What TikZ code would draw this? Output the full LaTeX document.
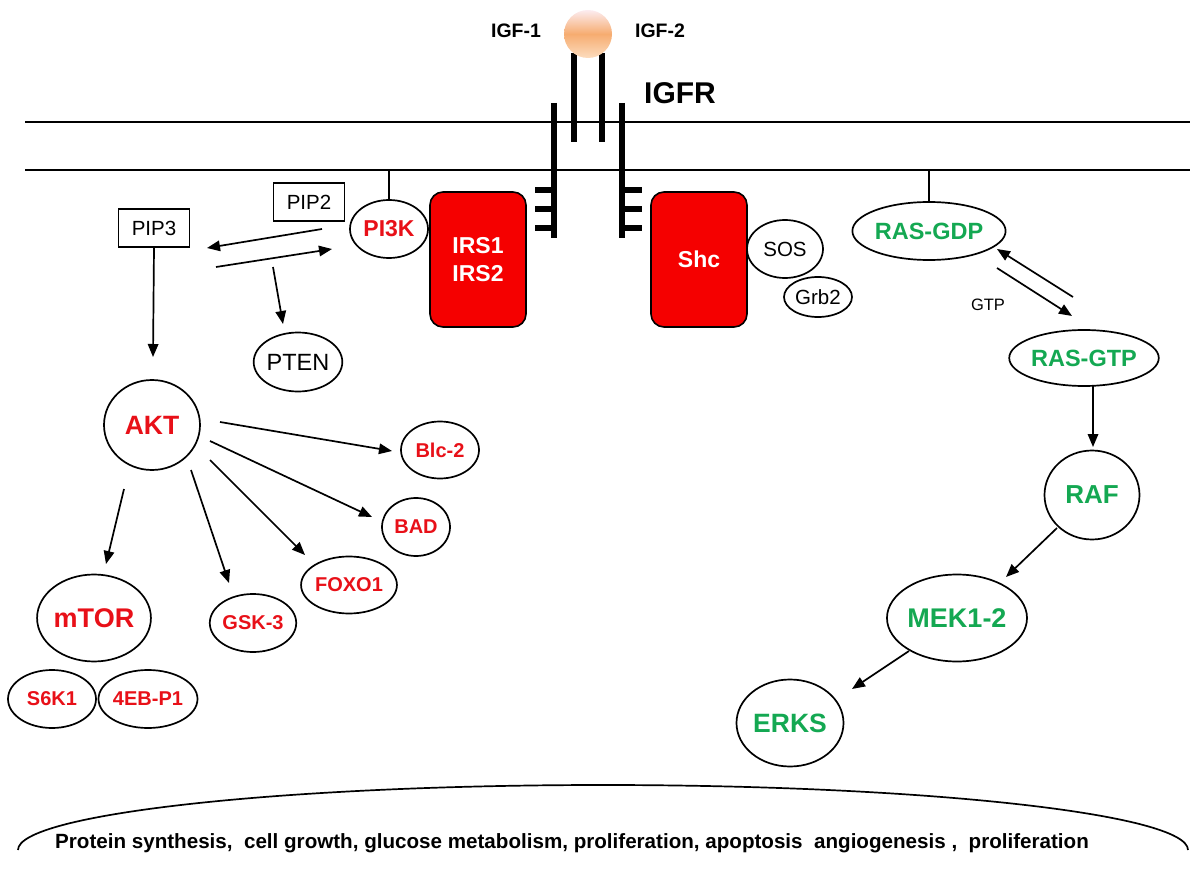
\documentclass[tikz,border=0pt]{standalone}
\usepackage{fontspec}
\setmainfont{Liberation Sans}
\usetikzlibrary{shapes.geometric,arrows.meta}
\definecolor{myred}{RGB}{232,16,24}
\definecolor{boxred}{RGB}{245,0,0}
\definecolor{mygreen}{RGB}{20,168,82}
\newcommand{\fsz}[1]{\fontsize{#1}{#1}\selectfont}
\begin{document}
\begin{tikzpicture}[x=1pt,y=-1pt,
  ov/.style={ellipse,draw,line width=1.7pt,inner sep=0pt},
  rt/.style={text=myred,font=\bfseries\fsz{#1}},
  gt/.style={text=mygreen,font=\bfseries\fsz{#1}},
  bt/.style={text=black,font=\fsz{#1}},
  pbox/.style={draw,line width=1.5pt,inner sep=0pt,minimum width=71pt,minimum height=38pt,font=\fsz{20.5}},
  redbox/.style={draw,line width=1.6pt,fill=boxred,rounded corners=13pt,minimum width=96pt,minimum height=135pt,text=white,align=center},
  arr/.style={-{Triangle[length=13pt,width=10.5pt]},line width=1.7pt},
  memb/.style={line width=1.7pt},
  bar/.style={line width=5.5pt},
  conn/.style={line width=1.6pt}]
\useasboundingbox (0,0) rectangle (1200,869);

% membrane
\draw[memb] (25,122) -- (1190,122);
\draw[memb] (25,170) -- (1190,170);

% receptor
\draw[bar] (574,53) -- (574,142);
\draw[bar] (602,53) -- (602,142);
\draw[bar] (554,103) -- (554,238);
\draw[bar] (622,103) -- (622,238);
\foreach \y in {190,209,228}{
  \draw[bar] (535,\y) -- (554,\y);
  \draw[bar] (622,\y) -- (642,\y);
}
% ligand
\shade[top color={rgb,255:red,252;green,236;blue,240},bottom color={rgb,255:red,252;green,220;blue,190},middle color={rgb,255:red,246;green,172;blue,112}] (588,34) circle[radius=24];

\node[font=\bfseries\fsz{19.5}] (igf1) at (516,31) {IGF-1};
\node[font=\bfseries\fsz{19.5}] (igf2) at (660,31) {IGF-2};
\node[font=\bfseries\fsz{30}] (igfr) at (680,93) {IGFR};

% left side
\node[pbox] (pip2) at (309,202) {PIP2};
\node[pbox] (pip3) at (154,228) {PIP3};
\node[ov,minimum width=78pt,minimum height=58pt,rt=23] (pi3k) at (389,229) {PI3K};
\node[ov,minimum width=88pt,minimum height=59pt,bt=23.5] (pten) at (298,362) {PTEN};
\node[redbox,font=\bfseries\fontsize{23}{28}\selectfont] (irs) at (478,259.5) {IRS1\\IRS2};
\node[redbox,font=\bfseries\fsz{23}] (shc) at (699,259.5) {Shc};
\node[ov,minimum width=76pt,minimum height=58pt,bt=20.5] (sos) at (785,249) {SOS};
\node[ov,minimum width=68pt,minimum height=40pt,bt=20.5] (grb) at (818,297) {Grb2};

\node[ov,minimum width=96pt,minimum height=90pt,rt=26.5] (akt) at (152,425) {AKT};
\node[ov,minimum width=78pt,minimum height=57pt,rt=20] (blc) at (440,450) {Blc-2};
\node[ov,minimum width=68pt,minimum height=58pt,rt=20] (bad) at (416,527) {BAD};
\node[ov,minimum width=86pt,minimum height=57pt,rt=20] (foxo) at (349,585) {FOXO1};
\node[ov,minimum width=86pt,minimum height=58pt,rt=20] (gsk) at (253,623) {GSK-3};
\node[ov,minimum width=113pt,minimum height=87pt,rt=27] (mtor) at (94,618) {mTOR};
\node[ov,minimum width=88pt,minimum height=58pt,rt=20] (s6k) at (52,699) {S6K1};
\node[ov,minimum width=87pt,minimum height=58pt,rt=20] (eb) at (148,699) {4EB-P1};

% right side
\node[ov,minimum width=135pt,minimum height=58pt,gt=23.5] (rasgdp) at (929,231) {RAS-GDP};
\node[ov,minimum width=124pt,minimum height=56pt,gt=23.5] (rasgtp) at (1084,358) {RAS-GTP};
\node[ov,minimum width=95pt,minimum height=89pt,gt=26] (raf) at (1092,495) {RAF};
\node[ov,minimum width=133pt,minimum height=87pt,gt=27] (mek) at (957,618) {MEK1-2};
\node[ov,minimum width=107pt,minimum height=87pt,gt=26.5] (erks) at (790,723) {ERKS};
\node[bt=16.5] (gtp) at (988,305) {GTP};

% membrane anchors
\coordinate (mpi) at (389,170);
\coordinate (mras) at (929,170);
\draw[conn] (mpi) -- (pi3k.north);
\draw[conn] (mras) -- (rasgdp.north);

% arrows left
\draw[arr] ([shift={(13,27)}]pip2.center) -- ([shift={(53,20)}]pip3.center);
\draw[arr] ([shift={(62,39)}]pip3.center) -- ([shift={(-57,20)}]pi3k.center);
\draw[arr] ([shift={(-36,65)}]pip2.center) -- ([shift={(-15,-38)}]pten.center);
\draw[arr] (pip3.south) -- ([shift={(1,-68)}]akt.center);
\draw[arr] ([shift={(68,-3)}]akt.center) -- ([shift={(-48,1)}]blc.center);
\draw[arr] ([shift={(58,16)}]akt.center) -- ([shift={(-44,-10)}]bad.center);
\draw[arr] ([shift={(58,35)}]akt.center) -- ([shift={(-44,-30)}]foxo.center);
\draw[arr] ([shift={(39,45)}]akt.center) -- ([shift={(-24,-40)}]gsk.center);
\draw[arr] ([shift={(-28,64)}]akt.center) -- ([shift={(12,-54)}]mtor.center);

% arrows right
\draw[arr] ([shift={(-11,-61)}]rasgtp.center) -- ([shift={(68,18)}]rasgdp.center);
\draw[arr] ([shift={(68,37)}]rasgdp.center) -- ([shift={(-12,-42)}]rasgtp.center);
\draw[arr] ([shift={(9,27)}]rasgtp.center) -- ([shift={(1,-48)}]raf.center);
\draw[arr] ([shift={(-35,33)}]raf.center) -- ([shift={(49,-41)}]mek.center);
\draw[arr] ([shift={(-48,33)}]mek.center) -- ([shift={(62,-34)}]erks.center);

% bottom
\draw[memb] (18,850) arc[start angle=180,end angle=360,x radius=585,y radius=65];
\node[font=\bfseries\fsz{20.6}] (out) at (572,843) {Protein synthesis,\ \ cell growth, glucose metabolism, proliferation, apoptosis\ \ angiogenesis ,\ \ proliferation};
\end{tikzpicture}
\end{document}
